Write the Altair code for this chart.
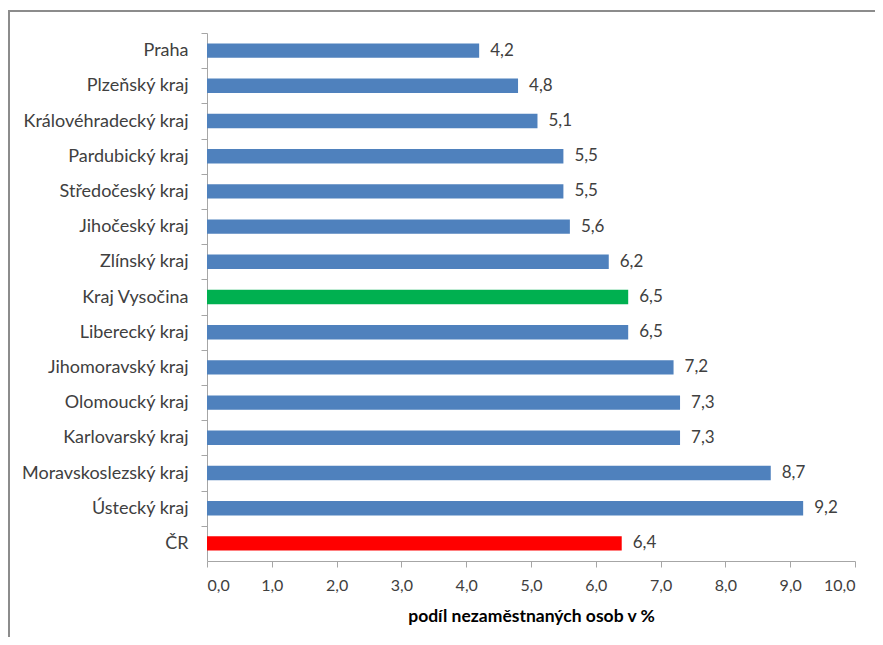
import altair as alt
import pandas as pd

regions = ["Praha", "Plzeňský kraj", "Královéhradecký kraj", "Pardubický kraj",
           "Středočeský kraj", "Jihočeský kraj", "Zlínský kraj", "Kraj Vysočina",
           "Liberecký kraj", "Jihomoravský kraj", "Olomoucký kraj", "Karlovarský kraj",
           "Moravskoslezský kraj", "Ústecký kraj", "ČR"]
values = [4.2, 4.8, 5.1, 5.5, 5.5, 5.6, 6.2, 6.5, 6.5, 7.2, 7.3, 7.3, 8.7, 9.2, 6.4]
groups = ["kraj"] * 7 + ["Vysočina"] + ["kraj"] * 6 + ["ČR"]

df = pd.DataFrame({"region": regions, "value": values, "group": groups})

FONT = "Lato"
TXT = "#404040"
GRID = "#a6a6a6"
STEP = 528 / 15

y_enc = alt.Y("region:N", sort=regions, title=None,
              scale=alt.Scale(paddingInner=0.59, paddingOuter=0.295),
              axis=alt.Axis(orient="left", tickOffset=-STEP / 2,
                            labelOffset=STEP / 2, tickSize=6,
                            tickColor=GRID, domainColor=GRID, labelFontSize=18,
                            labelColor=TXT, labelFont=FONT, labelPadding=13,
                            labelLimit=300, grid=False))
x_enc = alt.X("value:Q", title="podíl nezaměstnaných osob v %",
              scale=alt.Scale(domain=[0, 10], nice=False),
              axis=alt.Axis(orient="bottom", values=list(range(0, 11)), grid=False,
                            tickSize=6, tickColor=GRID, domainColor=GRID,
                            labelExpr="replace(format(datum.value, '.1f'), '.', ',')",
                            labelFontSize=16, labelColor=TXT, labelFont=FONT,
                            labelPadding=10, titleFont=FONT, titleFontSize=17.5,
                            titleFontWeight="bold", titleColor="#000000",
                            titlePadding=14))

bars = alt.Chart(df).mark_bar().encode(
    x=x_enc, y=y_enc,
    color=alt.Color("group:N", legend=None,
                    scale=alt.Scale(domain=["kraj", "Vysočina", "ČR"],
                                    range=["#4F81BD", "#00B050", "#FF0000"])),
)

labels = alt.Chart(df).transform_calculate(
    lab="replace(format(datum.value, '.1f'), '.', ',')"
).mark_text(align="left", baseline="middle", dx=11, fontSize=17, font=FONT,
            color=TXT).encode(x=x_enc, y=y_enc, text="lab:N")

border_top = alt.Chart(df).mark_rule(color="#8c8c8c", strokeWidth=1.5).encode(
    x=alt.value(-199), x2=alt.value(690), y=alt.value(-22))
border_left = alt.Chart(df).mark_rule(color="#8c8c8c", strokeWidth=1.5).encode(
    x=alt.value(-198.5), y=alt.value(-22), y2=alt.value(620))

chart = alt.layer(bars, labels, border_top, border_left).properties(
    width=648, height=528,
    background="white",
    padding={"left": 199, "top": 25, "right": 20, "bottom": 76},
    autosize=alt.AutoSizeParams(type="none"),
).configure_view(strokeWidth=0, stroke="transparent").configure_axis(grid=False)

chart.save("out.html", embed_options={"renderer": "svg", "actions": False})
